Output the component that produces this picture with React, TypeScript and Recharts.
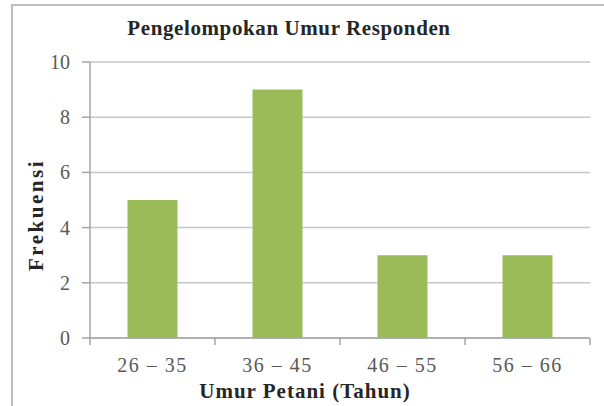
import React from "react";
import { BarChart, Bar, XAxis, YAxis, CartesianGrid } from "recharts";

const categories = ["26 – 35", "36 – 45", "46 – 55", "56 – 66"];
const frekuensi = [5, 9, 3, 3];
const yTicks = [0, 2, 4, 6, 8, 10];

const data = categories.map((c, i) => ({ name: c, value: frekuensi[i] }));

const FONT = "'Liberation Serif', 'Times New Roman', serif";
const BAND = 125;

const XTick = (props: any) => {
  const { x, y, payload, index } = props;
  const isLast = index === categories.length - 1;
  return (
    <g>
      <line x1={x - BAND / 2} x2={x - BAND / 2} y1={y - 8} y2={y - 1} stroke="#a6a6a6" strokeWidth={1.5} />
      {isLast && (
        <line x1={x + BAND / 2} x2={x + BAND / 2} y1={y - 8} y2={y - 1} stroke="#a6a6a6" strokeWidth={1.5} />
      )}
      <text x={x} y={y + 26} textAnchor="middle" fontFamily={FONT} fontSize={20} letterSpacing={1.5} fill="#595959">
        {payload.value}
      </text>
    </g>
  );
};

const YTick = (props: any) => {
  const { x, y, payload } = props;
  return (
    <text x={x} y={y + 7} textAnchor="end" fontFamily={FONT} fontSize={20} fill="#595959">
      {payload.value}
    </text>
  );
};

export default function App() {
  return (
    <div style={{ position: "absolute", left: 0, top: 0, width: 604, height: 406, background: "#fff" }}>
      <div
        style={{
          position: "absolute",
          left: 11,
          top: 4,
          width: 600,
          height: 410,
          border: "2px solid #bdbdbd",
          boxSizing: "border-box",
        }}
      />
      <BarChart
        width={604}
        height={406}
        data={data}
        margin={{ top: 62, right: 14, bottom: 38, left: 30 }}
        barCategoryGap="30%"
        style={{ position: "absolute", left: 0, top: 0 }}
      >
        <text x={289} y={35} textAnchor="middle" fontFamily={FONT} fontSize={21} fontWeight="bold" letterSpacing={0.6} fill="#262626">
          Pengelompokan Umur Responden
        </text>
        <text
          x={43}
          y={215}
          transform="rotate(-90 43 215)"
          textAnchor="middle"
          fontFamily={FONT}
          fontSize={21}
          fontWeight="bold"
          letterSpacing={2.5}
          fill="#262626"
        >
          Frekuensi
        </text>
        <text x={305} y={398} textAnchor="middle" fontFamily={FONT} fontSize={21} fontWeight="bold" letterSpacing={1} fill="#262626">
          Umur Petani (Tahun)
        </text>
        <CartesianGrid vertical={false} stroke="#c6c6c6" strokeWidth={1.5} />
        <XAxis
          dataKey="name"
          height={30}
          tickLine={false}
          axisLine={{ stroke: "#a6a6a6", strokeWidth: 1.5 }}
          tick={<XTick />}
          interval={0}
        />
        <YAxis
          width={60}
          domain={[0, 10]}
          ticks={yTicks}
          tickLine={{ stroke: "#a6a6a6", strokeWidth: 1.5 }}
          tickSize={8}
          axisLine={{ stroke: "#a6a6a6", strokeWidth: 1.5 }}
          tick={<YTick />}
          tickMargin={12}
        />
        <Bar dataKey="value" fill="#9bbb59" isAnimationActive={false} />
      </BarChart>
    </div>
  );
}
